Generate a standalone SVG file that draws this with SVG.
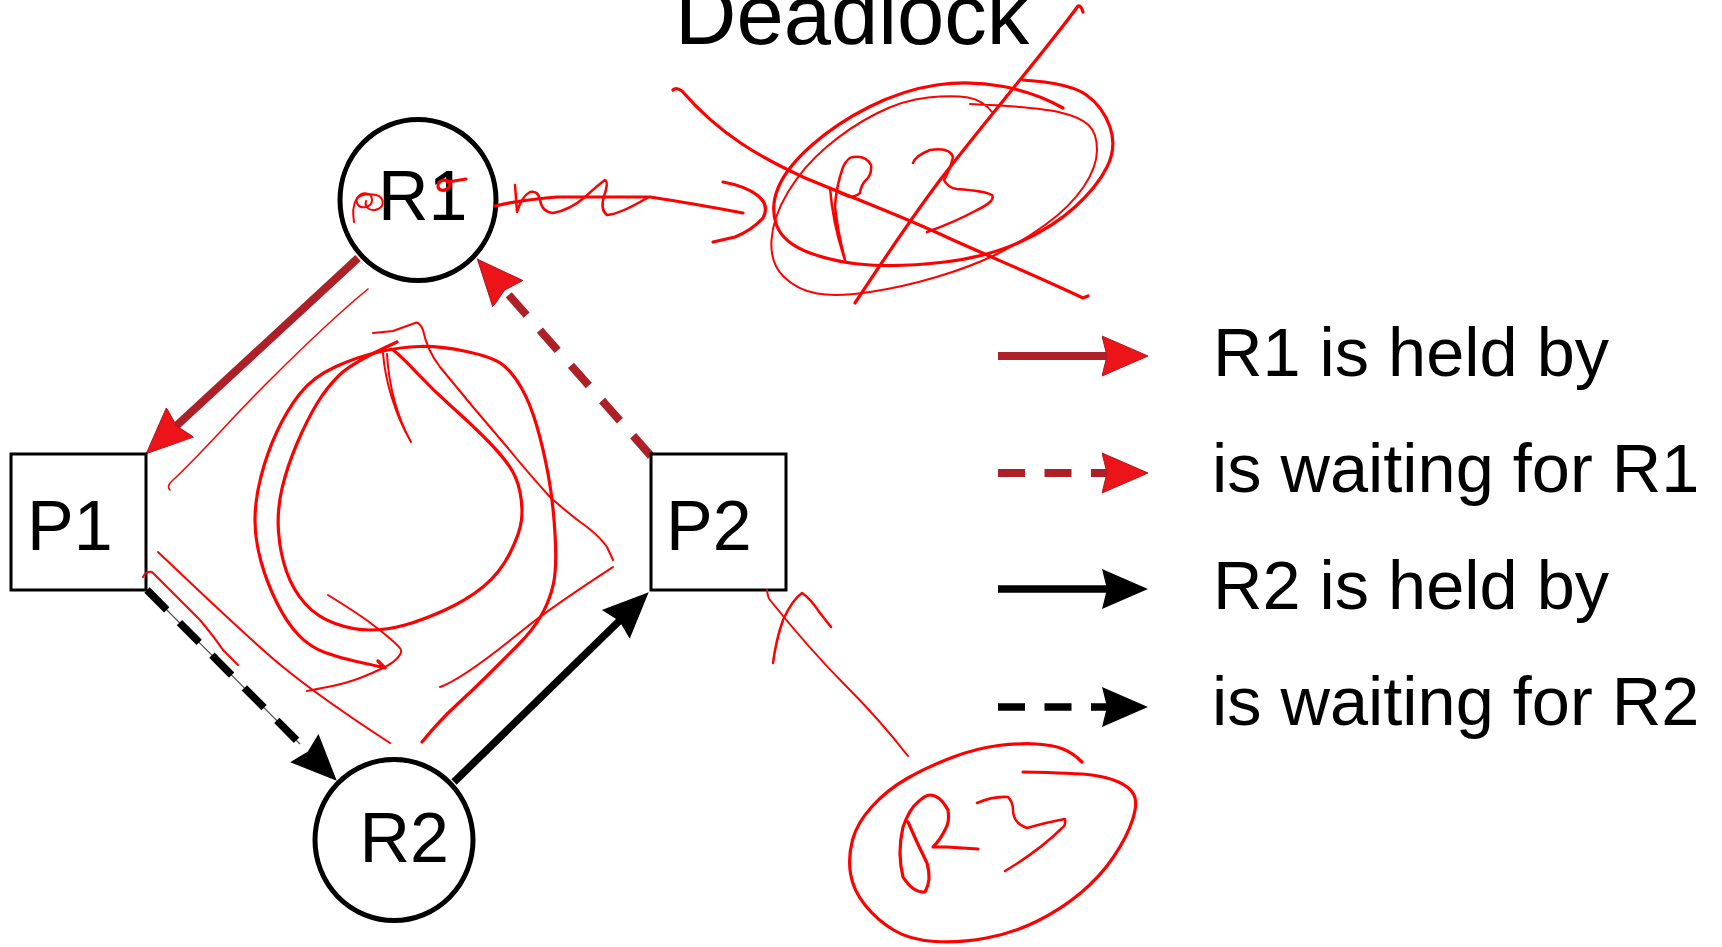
<svg xmlns="http://www.w3.org/2000/svg" width="1722" height="947" viewBox="0 0 1722 947">
<style>
.txt{font-family:"Liberation Sans",Arial,Helvetica,sans-serif;fill:#000}
.lbl{font-size:70px}
.leg{font-size:68.5px}
.title{font-size:85px}
.circ{fill:#fff;stroke:#000;stroke-width:5}
.box{fill:#fff;stroke:#000;stroke-width:3}
.er{fill:none;stroke:#ad2027;stroke-width:8}
.eb{fill:none;stroke:#000;stroke-width:7.5}
.dr{stroke-dasharray:27 20}
.db{stroke-dasharray:28 18}
.dl{stroke-dasharray:27 19.5}
.ink{fill:none;stroke:#f00;stroke-linecap:round;stroke-linejoin:round;stroke-width:2.5}
.thin{stroke-width:1.6}
.mid{stroke-width:2}
.thick{stroke-width:3.2}
</style>
<defs>
<marker id="ah-red" markerUnits="userSpaceOnUse" markerWidth="48" markerHeight="42" viewBox="0 0 48 42" refX="15" refY="21" orient="auto"><path d="M0,1 L46,21 L0,41 L5,21 z" fill="#ec1319" stroke="#b01a20" stroke-width="1"/></marker>
<marker id="ah-black" markerUnits="userSpaceOnUse" markerWidth="48" markerHeight="42" viewBox="0 0 48 42" refX="15" refY="21" orient="auto"><path d="M0,1 L46,21 L0,41 L5,21 z" fill="#000"/></marker>
</defs>
<rect width="1722" height="947" fill="#fff"/>
<text class="txt title" x="675" y="44">Deadlock</text>

<g id="connectors">
<path id="e-R1-P1" class="er" d="M358,258 L169,432.6" marker-end="url(#ah-red)"/>
<path id="e-P2-R1" class="er dr" d="M651,456 L497.9,282.5" marker-end="url(#ah-red)"/>
<path d="M147,590 L300,744" fill="none" stroke="#555" stroke-width="1.2"/>
<path id="e-P1-R2" class="eb db" d="M147,590 L314.9,758.7" marker-end="url(#ah-black)"/>
<path id="e-R2-P2" class="eb" d="M454,782 L626.5,613.9" marker-end="url(#ah-black)"/>
</g>

<g id="R1"><ellipse class="circ" cx="418" cy="200" rx="78" ry="80.5"/><text class="txt lbl" x="378" y="220">R1</text></g>
<g id="R2"><ellipse class="circ" cx="394" cy="840" rx="79" ry="80.5"/><text class="txt lbl" x="359.5" y="862">R2</text></g>
<g id="P1"><rect class="box" x="11" y="454" width="135" height="136"/><text class="txt lbl" x="27" y="550">P1</text></g>
<g id="P2"><rect class="box" x="651" y="454" width="135" height="136"/><text class="txt lbl" x="666" y="550">P2</text></g>

<g id="legend">
<path class="er" d="M998,356 L1117,356" marker-end="url(#ah-red)"/>
<path class="er dl" d="M998,473 L1117,473" marker-end="url(#ah-red)"/>
<path class="eb" d="M998,589 L1117,589" marker-end="url(#ah-black)"/>
<path class="eb dl" d="M998,707 L1117,707" marker-end="url(#ah-black)"/>
<text class="txt leg" x="1213" y="376">R1 is held by</text>
<text class="txt leg" x="1212" y="492">is waiting for R1</text>
<text class="txt leg" x="1213" y="609">R2 is held by</text>
<text class="txt leg" x="1212" y="725">is waiting for R2</text>
</g>

<g id="annotations">
<path class="ink mid" d="M354,222 C353,214 352,206 357,198 C362,191 372,192 372,200 C372,208 360,210 357,203 C354,196 366,193 376,195 C384,197 385,206 378,209 C371,212 364,208 366,201"/>
<path class="ink thick" d="M450,183 C446,178 438,180 438,186 C438,191 445,192 449,187 C451,184 450,181 447,182 M448,182 L466,179"/>
<path class="ink thick" d="M495,206 Q520,200 557,197 L650,197 Q690,203 743,213"/>
<path class="ink" d="M515,185 L517,212 Q522,196 530,192 Q538,190 540,200 Q542,212 553,213 Q570,210 585,197 Q598,185 605,180 Q609,182 604,196 Q600,210 607,215 Q620,214 647,198"/>
<path class="ink thick" d="M723,182 Q745,186 757,195 Q770,205 763,218 Q752,230 735,237 L713,242"/>
<path class="ink thick" d="M1063,108 Q1037,93 1003.5,86.5 Q970,80 936.5,85 Q903,90 870,106.5 Q837,123 812,145 Q787,167 778.5,187 Q770,207 776.5,225 Q783,243 810,253 Q837,263 870,265 Q903,267 945,262 Q987,257 1020,242 Q1053,227 1075,207 Q1097,187 1107,167 Q1117,147 1110,127 Q1103,107 1086.5,95 Q1070,83 1023,80"/>
<path class="ink mid" d="M993,113 Q983,100 968,97.5 Q953,95 928,97.5 Q903,100 876.5,113.5 Q850,127 826.5,147 Q803,167 788,192 Q773,217 771.5,240 Q770,263 783.5,276.5 Q797,290 817,293.5 Q837,297 870,292 Q903,287 936.5,277 Q970,267 995,255 Q1020,243 1045,225 Q1070,207 1083.5,187 Q1097,167 1097,150 Q1097,133 1088.5,125 Q1080,117 1058.5,112 Q1037,107 970,104"/>
<path class="ink" d="M845,260 Q838,233 835,207 Q836,187 843,167 Q848,157 853,157 Q866,155 871,165 Q872,175 866,180 Q861,185 860,193 Q855,197 850,197 L840,193 M830,188 Q833,225 845,260"/>
<path class="ink" d="M913,163 Q915,156 930,150 Q950,147 953,157 Q950,170 944,180 Q948,188 957,189 Q985,191 992,195 Q996,201 977,210 Q955,222 927,232"/>
<path class="ink thick" d="M673,90 Q676,87 682,91 C720,135 760,157 803,177 C850,197 900,215 953,240 C1000,261 1050,282 1083,298 L1088,296"/>
<path class="ink thick" d="M1083,12 Q1081,5 1078,6 C1050,45 990,115 940,180 C910,220 880,265 855,303"/>
<path class="ink thin" d="M368,289 C330,320 290,360 266,384 C230,420 200,455 173,480 Q166,486 170,490"/>
<path class="ink thick" d="M378,661 L385,668 Q373,665 356.5,661.5 Q340,658 325,652.5 Q310,647 298.5,635 Q287,623 277,603 Q267,583 261,561.5 Q255,540 255,520 Q255,500 261,476.5 Q267,453 277,431.5 Q287,410 300,393.5 Q313,377 335,367 Q357,357 378.5,352 Q400,347 420,346.5 Q440,346 466.5,351.5 Q493,357 503,365 Q513,373 521.5,388 Q530,403 536.5,425 Q543,447 548,473.5 Q553,500 555,533.5 Q557,567 553.5,583.5 Q550,600 541.5,615 Q533,630 518,645 Q503,660 488,675 Q473,690 456.5,705 Q440,720 422,742"/>
<path class="ink thick" d="M397,342 Q353,362 340,374.5 Q327,387 317,403.5 Q307,420 297,443.5 Q287,467 282,488.5 Q277,510 278.5,531.5 Q280,553 286.5,571.5 Q293,590 305,603.5 Q317,617 335,623.5 Q353,630 370,630 Q387,630 405,625 Q423,620 445,610 Q467,600 483.5,586.5 Q500,573 510,553 Q520,533 521.5,520 Q523,507 520,492 Q517,477 508.5,465 Q500,453 485,438 Q470,423 451.5,406.5 Q433,390 416.5,372.5 Q400,355 393,350"/>
<path class="ink mid" d="M373,333 L393,331 L415,323 Q419,321 423,330 Q427,350 440,367 L473,407 L507,447 Q530,475 550,497 Q570,515 587,527 Q600,537 607,547 L613,560"/>
<path class="ink mid" d="M383,353 C385,380 395,415 411,442 C398,418 389,388 387,354"/>
<path class="ink mid" d="M328,595 Q357,613 368.5,621.5 Q380,630 390,638.5 Q400,647 401,650 Q402,653 397.5,658 Q393,663 383,668 Q373,673 360,678 Q347,683 330,686.5 Q313,690 307,691"/>
<path class="ink mid" d="M158,552 C200,592 250,640 283,667 S350,717 390,743"/>
<path class="ink mid" d="M143,577 Q146,571 152,572 L173,593 L200,620 Q215,638 223,650 L238,665"/>
<path class="ink mid" d="M613,567 C590,582 550,608 523,630 S460,680 440,687"/>
<path class="ink mid" d="M767,590 Q768,598 770,600 C790,625 815,655 847,687 C870,710 890,733 908,756"/>
<path class="ink" d="M773,663 Q776,640 783,620 Q792,600 802,593 Q810,598 820,613 L831,627"/>
<path class="ink thick" d="M1082,762 Q1073,753 1063,749 Q1053,745 1036.5,744 Q1020,743 998.5,745.5 Q977,748 952,757.5 Q927,767 907,778.5 Q887,790 872,806.5 Q857,823 852.5,840 Q848,857 850.5,873.5 Q853,890 865,905 Q877,920 893.5,930 Q910,940 935,941.5 Q960,943 986.5,938 Q1013,933 1036.5,921.5 Q1060,910 1080,893.5 Q1100,877 1113.5,857 Q1127,837 1132.5,820 Q1138,803 1134,795 Q1130,787 1118.5,782 Q1107,777 1092,775 Q1077,773 1023,772"/>
<path class="ink thick" d="M908,822 Q917,843 927,863 Q932,880 925,892 Q913,893 903,877 Q897,853 903,827 Q910,808 917,803 Q925,795 930,795 Q940,795 948,810 Q950,822 945,830 Q940,840 933,847 L947,847 L978,849"/>
<path class="ink" d="M977,803 Q993,796 1008,797 Q1013,802 1013,810 Q1013,823 1027,828 Q1048,822 1065,819 Q1066,826 1062,828 Q1040,850 1005,871"/>
</g>
</svg>
